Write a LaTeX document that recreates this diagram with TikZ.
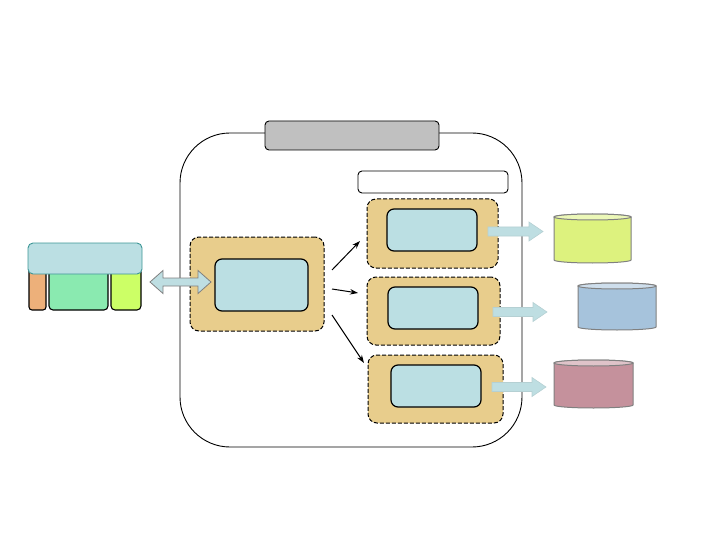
\documentclass[tikz,border=0pt]{standalone}
\usetikzlibrary{arrows.meta}
\definecolor{lblue}{RGB}{187,223,227}
\definecolor{tan}{RGB}{232,205,140}
\definecolor{gbar}{RGB}{192,192,192}
\definecolor{arrowc}{RGB}{190,222,226}
\definecolor{cylA}{RGB}{221,242,126}
\definecolor{cylB}{RGB}{166,195,220}
\definecolor{cylC}{RGB}{197,145,156}
\definecolor{orangeP}{RGB}{237,176,122}
\definecolor{greenP}{RGB}{138,234,176}
\definecolor{yellowP}{RGB}{204,255,102}
\definecolor{tealB}{RGB}{60,150,150}
\tikzset{
  every path/.style={line width=0.9pt},
  box/.style={draw, rectangle, inner sep=0pt},
  outerbox/.style={box, fill=tan, line width=1pt, dash pattern=on 4pt off 2pt, rounded corners=9pt},
  innerbox/.style={box, fill=lblue, line width=1.2pt, rounded corners=7pt},
  blockarrow/.style={draw=arrowc!85!gray, fill=arrowc, line width=0.6pt},
  dbbody/.style={draw=gray, line width=1pt},
  conn/.style={-{Stealth[length=8pt,width=5.5pt]}, line width=1pt}
}
\begin{document}
\begin{tikzpicture}[x=1pt,y=-1pt]
\useasboundingbox (0,0) rectangle (720,540);
% main container
\node[box, rounded corners=50pt, minimum width=342pt, minimum height=314pt] (main) at (351,290) {};
\node[box, fill=gbar, rounded corners=4pt, minimum width=174pt, minimum height=29pt] (title) at (352,135.5) {};
\node[box, fill=white, rounded corners=4pt, minimum width=150pt, minimum height=22pt] (label) at (433,182) {};
% left process
\node[outerbox, minimum width=134pt, minimum height=94pt] (lo) at (257,284) {};
\node[innerbox, minimum width=93pt, minimum height=52pt] (li) at (261.5,285) {};
% right processes
\node[outerbox, minimum width=131pt, minimum height=69pt] (o1) at (432.5,233.5) {};
\node[innerbox, minimum width=90pt, minimum height=42pt] (i1) at (432,230) {};
\node[outerbox, minimum width=133pt, minimum height=68pt] (o2) at (433.5,311) {};
\node[innerbox, minimum width=90pt, minimum height=42pt] (i2) at (433,308) {};
\node[outerbox, minimum width=135pt, minimum height=68pt] (o3) at (435.5,389) {};
\node[innerbox, minimum width=90pt, minimum height=42pt] (i3) at (436,386) {};
% connectors
\coordinate (s1) at (332,270); \coordinate (e1) at (360,241);
\coordinate (s2) at (332,289); \coordinate (e2) at (358,293);
\coordinate (s3) at (332,315); \coordinate (e3) at (364,363);
\draw[conn] (s1) -- (e1);
\draw[conn] (s2) -- (e2);
\draw[conn] (s3) -- (e3);
% block arrows
\draw[blockarrow] (488,227) -- (529,227) -- (529,222) -- (543,231.5) -- (529,241) -- (529,236) -- (488,236) -- cycle;
\draw[blockarrow] (493,307.5) -- (533,307.5) -- (533,302.5) -- (547,312) -- (533,321.5) -- (533,316.5) -- (493,316.5) -- cycle;
\draw[blockarrow] (492,382.5) -- (532,382.5) -- (532,377.5) -- (546,387) -- (532,396.5) -- (532,391.5) -- (492,391.5) -- cycle;
% databases
\draw[dbbody, fill=cylA] (554,217) -- (554,260) arc[start angle=180,end angle=360,x radius=38.5pt,y radius=3pt] -- (631,217) arc[start angle=0,end angle=180,x radius=38.5pt,y radius=3pt] -- cycle;
\draw[dbbody, fill=cylA!55!white] (592.5,217) ellipse[x radius=38.5pt,y radius=3pt];
\draw[dbbody, fill=cylB] (578,286) -- (578,327) arc[start angle=180,end angle=360,x radius=39pt,y radius=3pt] -- (656,286) arc[start angle=0,end angle=180,x radius=39pt,y radius=3pt] -- cycle;
\draw[dbbody, fill=cylB!55!white] (617,286) ellipse[x radius=39pt,y radius=3pt];
\draw[dbbody, fill=cylC] (554,363) -- (554,405) arc[start angle=180,end angle=360,x radius=39.5pt,y radius=3pt] -- (633,363) arc[start angle=0,end angle=180,x radius=39.5pt,y radius=3pt] -- cycle;
\draw[dbbody, fill=cylC!55!white] (593.5,363) ellipse[x radius=39.5pt,y radius=3pt];
% left client
\node[box, line width=1.1pt, fill=orangeP, rounded corners=3pt, minimum width=17pt, minimum height=42pt] (p1) at (37.5,289) {};
\node[box, line width=1.1pt, fill=greenP, rounded corners=4pt, minimum width=59pt, minimum height=42pt] (p2) at (78.5,289) {};
\node[box, line width=1.1pt, fill=yellowP, rounded corners=4pt, minimum width=30pt, minimum height=42pt] (p3) at (126,289) {};
\node[box, draw=tealB, fill=lblue, rounded corners=5pt, minimum width=114pt, minimum height=31pt] (client) at (85,258.5) {};
% double arrow
\draw[draw=gray, fill=arrowc, line width=0.8pt] (150,282) -- (163,270.5) -- (163,278) -- (198,278) -- (198,270.5) -- (211,282) -- (198,293.5) -- (198,286) -- (163,286) -- (163,293.5) -- cycle;
\end{tikzpicture}
\end{document}
